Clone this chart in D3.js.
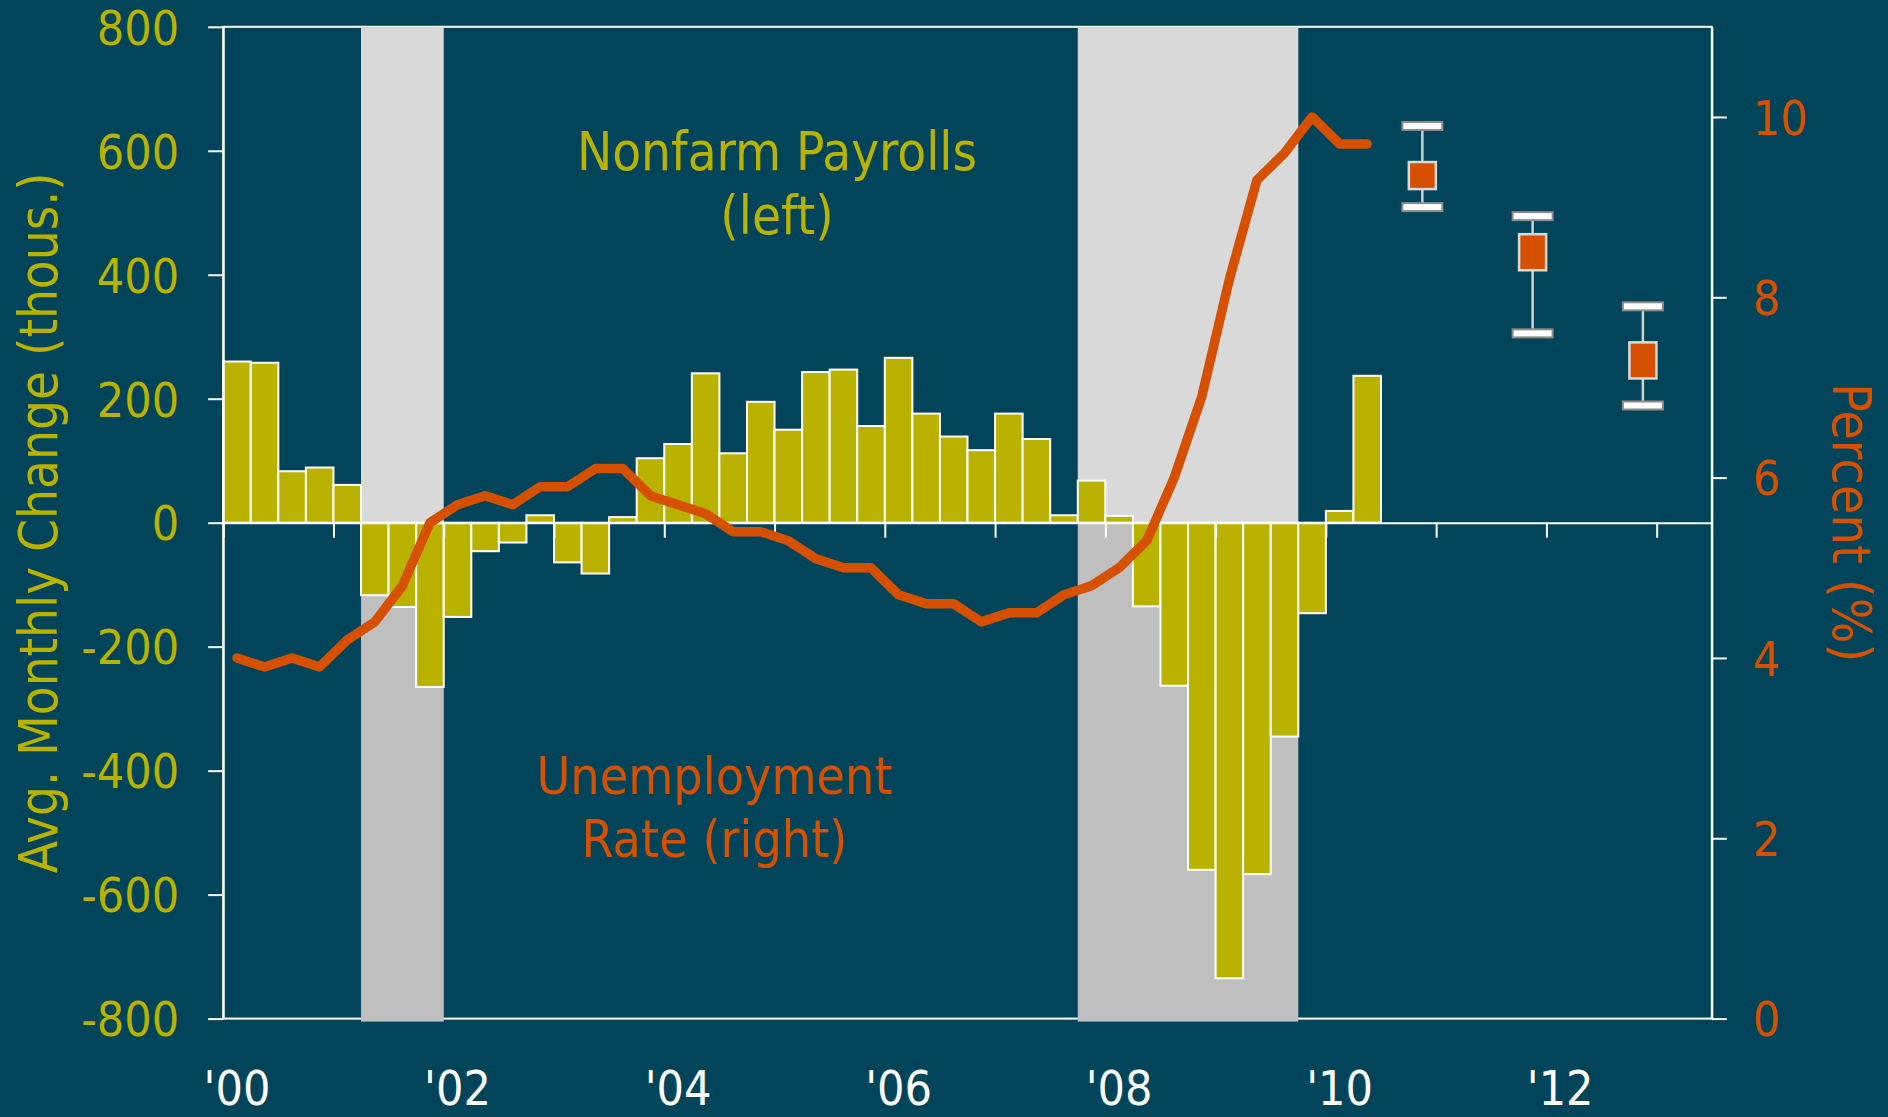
<!DOCTYPE html>
<html>
<head>
<meta charset="utf-8">
<script src="https://cdn.jsdelivr.net/npm/d3@7/dist/d3.min.js"></script>
<style>
  html, body { margin: 0; padding: 0; background: #02455A; }
  svg { display: block; }
  text { font-family: 'DejaVu Sans Condensed', 'DejaVu Sans', sans-serif; font-stretch: condensed; }
</style>
</head>
<body>
<svg id="chart" width="1888" height="1117"></svg>
<script>
// ---------------- DATA ----------------
const quarters = [
  "2000Q1","2000Q2","2000Q3","2000Q4",
  "2001Q1","2001Q2","2001Q3","2001Q4",
  "2002Q1","2002Q2","2002Q3","2002Q4",
  "2003Q1","2003Q2","2003Q3","2003Q4",
  "2004Q1","2004Q2","2004Q3","2004Q4",
  "2005Q1","2005Q2","2005Q3","2005Q4",
  "2006Q1","2006Q2","2006Q3","2006Q4",
  "2007Q1","2007Q2","2007Q3","2007Q4",
  "2008Q1","2008Q2","2008Q3","2008Q4",
  "2009Q1","2009Q2","2009Q3","2009Q4",
  "2010Q1","2010Q2"
];
// Nonfarm payrolls, avg. monthly change (thous.)
const payrolls = [
  260, 258, 83, 89,
  61, -117, -136, -265,
  -152, -46, -32, 12,
  -64, -82, 9, 104,
  127, 241, 112, 195,
  150, 243, 247, 156,
  266, 176, 139, 117,
  176, 135, 12, 68,
  11, -135, -263, -560,
  -735, -567, -345, -146,
  19, 237
];
// Unemployment rate (%)
const unemployment = [
  4.0, 3.9, 4.0, 3.9,
  4.2, 4.4, 4.8, 5.5,
  5.7, 5.8, 5.7, 5.9,
  5.9, 6.1, 6.1, 5.8,
  5.7, 5.6, 5.4, 5.4,
  5.3, 5.1, 5.0, 5.0,
  4.7, 4.6, 4.6, 4.4,
  4.5, 4.5, 4.7, 4.8,
  5.0, 5.3, 6.0, 6.9,
  8.2, 9.3, 9.6, 10.0,
  9.7, 9.7
];
// Unemployment projections
const forecastPeriods = ["2010Q4", "2011Q4", "2012Q4"];
const rangeHigh = [9.9, 8.9, 7.9];
const rangeLow  = [9.0, 7.6, 6.8];
const centralHigh = [9.5, 8.7, 7.5];
const centralLow  = [9.2, 8.3, 7.1];
// Recessions (first and last quarter, inclusive)
const recessionStart = ["2001Q2", "2007Q4"];
const recessionEnd   = ["2001Q4", "2009Q3"];
// Axis ticks
const leftTicks = [-800, -600, -400, -200, 0, 200, 400, 600, 800];
const rightTicks = [0, 2, 4, 6, 8, 10];
const yearTicks = [2000,2001,2002,2003,2004,2005,2006,2007,2008,2009,2010,2011,2012,2013];
const yearLabelYears = [2000, 2002, 2004, 2006, 2008, 2010, 2012];
const yearLabels = ["'00", "'02", "'04", "'06", "'08", "'10", "'12"];

// ---------------- STYLE ----------------
const C = {
  bg: "#02455A",
  olive: "#BAB200",
  orange: "#D55000",
  white: "#FFFFFF",
  recUp: "#D9D9D9",
  recDown: "#BFBFBF"
};

const svg = d3.select("#chart");
const W = 1888, H = 1117;
const plot = { left: 223.2, right: 1711.8, top: 26.8, bottom: 1018.6 };

const qToT = q => +q.slice(0, 4) + (+q.slice(5) - 1) / 4;

const x = d3.scaleLinear().domain([2000, 2013.5]).range([plot.left, plot.right]);
const yL = d3.scaleLinear().domain([-800, 800]).range([plot.bottom, plot.top]);
const yR = d3.scaleLinear().domain([0, 11]).range([plot.bottom, plot.top]);

svg.append("rect").attr("width", W).attr("height", H).attr("fill", C.bg);

// frame
svg.append("rect")
  .attr("x", plot.left).attr("y", plot.top)
  .attr("width", plot.right - plot.left).attr("height", plot.bottom - plot.top)
  .attr("fill", "none").attr("stroke", C.white).attr("stroke-width", 2);

// recession shading
const rec = recessionStart.map((s, i) => ({ s: qToT(s), e: qToT(recessionEnd[i]) + 0.25 }));
svg.append("g").selectAll("rect").data(rec).join("rect")
  .attr("x", d => x(d.s)).attr("width", d => x(d.e) - x(d.s))
  .attr("y", yL(800) + 1).attr("height", yL(0) - yL(800) - 1)
  .attr("fill", C.recUp);
svg.append("g").selectAll("rect").data(rec).join("rect")
  .attr("x", d => x(d.s)).attr("width", d => x(d.e) - x(d.s))
  .attr("y", yL(0)).attr("height", yL(-800) - yL(0) + 3)
  .attr("fill", C.recDown);

// payroll bars
svg.append("g").selectAll("rect").data(quarters).join("rect")
  .attr("x", q => x(qToT(q)))
  .attr("width", q => x(qToT(q) + 0.25) - x(qToT(q)))
  .attr("y", (q, i) => yL(Math.max(0, payrolls[i])))
  .attr("height", (q, i) => Math.abs(yL(payrolls[i]) - yL(0)))
  .attr("fill", C.olive)
  .attr("stroke", C.white).attr("stroke-width", 2);

// zero line with year ticks
const xAxis = svg.append("g").attr("transform", `translate(0,${yL(0)})`)
  .call(d3.axisBottom(x).tickValues(yearTicks).tickSize(15).tickSizeOuter(0).tickFormat(""));
xAxis.select(".domain").attr("stroke", C.white).attr("stroke-width", 2);
xAxis.selectAll(".tick line").attr("stroke", C.white).attr("stroke-width", 2);

// left axis
const lAxis = svg.append("g").attr("transform", `translate(${plot.left},0)`)
  .call(d3.axisLeft(yL).tickValues(leftTicks).tickSize(15).tickSizeOuter(0).tickPadding(29).tickFormat(d => String(d)));
lAxis.select(".domain").attr("stroke", C.white).attr("stroke-width", 2);
lAxis.selectAll(".tick line").attr("stroke", C.white).attr("stroke-width", 2);
lAxis.selectAll(".tick text").attr("fill", C.olive).attr("font-size", 48).attr("dy", "0.36em")
  .style("font-family", "'DejaVu Sans Condensed', 'DejaVu Sans', sans-serif");

// right axis
const rAxis = svg.append("g").attr("transform", `translate(${plot.right},0)`)
  .call(d3.axisRight(yR).tickValues(rightTicks).tickSize(15).tickSizeOuter(0).tickPadding(26).tickFormat(d => String(d)));
rAxis.select(".domain").attr("stroke", C.white).attr("stroke-width", 2);
rAxis.selectAll(".tick line").attr("stroke", C.white).attr("stroke-width", 2);
rAxis.selectAll(".tick text").attr("fill", C.orange).attr("font-size", 48).attr("dy", "0.36em")
  .style("font-family", "'DejaVu Sans Condensed', 'DejaVu Sans', sans-serif");

// x labels
svg.append("g").selectAll("text").data(yearLabelYears).join("text")
  .attr("x", d => x(d + 0.125)).attr("y", 1105)
  .attr("text-anchor", "middle").attr("fill", C.white).attr("font-size", 48)
  .text((d, i) => yearLabels[i]);

// unemployment line
const line = d3.line()
  .x((q) => x(qToT(q) + 0.125))
  .y((q, i) => yR(unemployment[i]));
svg.append("path").datum(quarters)
  .attr("d", line)
  .attr("fill", "none").attr("stroke", C.orange).attr("stroke-width", 9.5)
  .attr("stroke-linejoin", "round").attr("stroke-linecap", "round");

// projections
const fg = svg.append("g").selectAll("g").data(forecastPeriods).join("g")
  .attr("transform", q => `translate(${x(qToT(q) + 0.125)},0)`);
fg.append("line")
  .attr("x1", 0).attr("x2", 0)
  .attr("y1", (q, i) => yR(rangeHigh[i])).attr("y2", (q, i) => yR(rangeLow[i]))
  .attr("stroke", "#D0D0D0").attr("stroke-width", 2.5);
fg.append("rect")
  .attr("x", -13.5).attr("width", 27)
  .attr("y", (q, i) => yR(centralHigh[i]))
  .attr("height", (q, i) => yR(centralLow[i]) - yR(centralHigh[i]))
  .attr("fill", C.orange).attr("stroke", "#DADADA").attr("stroke-width", 2.5);
[rangeHigh, rangeLow].forEach(arr => {
  fg.append("rect")
    .attr("x", -20).attr("width", 40)
    .attr("y", (q, i) => yR(arr[i]) - 4).attr("height", 8)
    .attr("fill", C.white).attr("stroke", "#8C8C8C").attr("stroke-width", 2);
});

// axis titles
svg.append("text")
  .attr("transform", `translate(56.5,${yL(0)}) rotate(-90)`)
  .attr("text-anchor", "middle").attr("fill", C.olive).attr("font-size", 52.5)
  .text("Avg. Monthly Change (thous.)");
svg.append("text")
  .attr("transform", `translate(1833,${yL(0)}) rotate(90)`)
  .attr("text-anchor", "middle").attr("fill", C.orange).attr("font-size", 53.5)
  .text("Percent (%)");

// annotations
const ann1 = svg.append("text").attr("text-anchor", "middle").attr("fill", C.olive).attr("font-size", 52.5);
ann1.append("tspan").attr("x", 777).attr("y", 170).text("Nonfarm Payrolls");
ann1.append("tspan").attr("x", 777).attr("y", 233.5).text("(left)");
const ann2 = svg.append("text").attr("text-anchor", "middle").attr("fill", C.orange).attr("font-size", 51.5);
ann2.append("tspan").attr("x", 714.5).attr("y", 793.5).text("Unemployment");
ann2.append("tspan").attr("x", 714.5).attr("y", 856.7).text("Rate (right)");
</script>
</body>
</html>
